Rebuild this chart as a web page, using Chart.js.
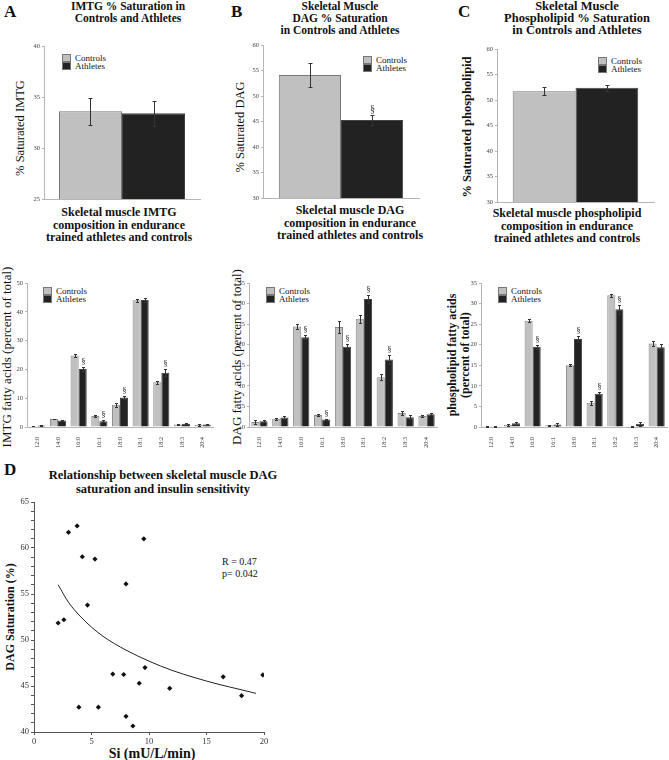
<!DOCTYPE html>
<html>
<head>
<meta charset="utf-8">
<script src="https://cdn.jsdelivr.net/npm/chart.js@4.4.1/dist/chart.umd.min.js"></script>
<style>
  body { margin: 0; background: #fff; }
  #page { position: relative; width: 669px; height: 760px; overflow: hidden; font-family: "Liberation Serif", serif; color: #111; }
  #page canvas { position: absolute; }
  .t { position: absolute; white-space: nowrap; }
  .b { font-weight: bold; }
  .c { text-align: center; transform: translateX(-50%); }
  .r { transform: translate(-50%, -50%) rotate(-90deg); text-align: center; }
  .letter { font-size: 17px; font-weight: bold; }
  .ttl { font-size: 11.5px; font-weight: bold; line-height: 12px; }
  .xl { font-size: 12px; font-weight: bold; line-height: 12.5px; }
  .lg { position: absolute; font-size: 9px; line-height: 8px; }
  .lg span { display: inline-block; width: 7px; height: 6px; margin-right: 4px; vertical-align: top; border: 1px solid #777; }
  .lg div { height: 8px; }
</style>
</head>
<body>
<div id="page">
  <!-- top row -->
  <div class="t letter" style="left:4px;top:2px;">A</div>
  <div class="t letter" style="left:231px;top:2px;">B</div>
  <div class="t letter" style="left:458px;top:2px;">C</div>

  <div class="t ttl c" style="left:128px;top:0px;">IMTG % Saturation in<br>Controls and Athletes</div>
  <div class="t ttl c" style="left:340px;top:0px;">Skeletal Muscle<br>DAG % Saturation<br>in Controls and Athletes</div>
  <div class="t ttl c" style="left:577px;top:0px;font-size:12.5px;">Skeletal Muscle<br>Phospholipid % Saturation<br>in Controls and Athletes</div>

  <div class="t r" style="left:20px;top:128px;font-size:12.5px;">% Saturated IMTG</div>
  <div class="t r" style="left:240px;top:127px;font-size:12.5px;">% Saturated DAG</div>
  <div class="t r b" style="left:467px;top:127px;font-size:12.5px;">% Saturated phospholipid</div>

  <div class="t xl c" style="left:119px;top:206px;">Skeletal muscle IMTG<br>composition in endurance<br>trained athletes and controls</div>
  <div class="t xl c" style="left:350px;top:204px;">Skeletal muscle DAG<br>composition in endurance<br>trained athletes and controls</div>
  <div class="t xl c" style="left:567px;top:207px;">Skeletal muscle phospholipid<br>composition in endurance<br>trained athletes and controls</div>

  <div class="lg" style="left:62px;top:54px;"><div><span style="background:#c0c0c0"></span>Controls</div><div><span style="background:#222"></span>Athletes</div></div>
  <div class="lg" style="left:363px;top:56px;"><div><span style="background:#c0c0c0"></span>Controls</div><div><span style="background:#222"></span>Athletes</div></div>
  <div class="lg" style="left:598px;top:57px;"><div><span style="background:#c0c0c0"></span>Controls</div><div><span style="background:#222"></span>Athletes</div></div>

  <!-- fatty acid row -->
  <div class="t r" style="left:7px;top:357px;font-size:13px;">IMTG fatty acids (percent of total)</div>
  <div class="t r" style="left:237px;top:357px;font-size:13px;">DAG fatty acids (percent of total)</div>
  <div class="t r b" style="left:459px;top:355px;font-size:12px;line-height:13px;">phospholipid fatty acids<br>(percent of total)</div>

  <div class="lg" style="left:43px;top:287px;"><div><span style="background:#c0c0c0"></span>Controls</div><div><span style="background:#222"></span>Athletes</div></div>
  <div class="lg" style="left:266px;top:287px;"><div><span style="background:#c0c0c0"></span>Controls</div><div><span style="background:#222"></span>Athletes</div></div>
  <div class="lg" style="left:498px;top:287px;"><div><span style="background:#c0c0c0"></span>Controls</div><div><span style="background:#222"></span>Athletes</div></div>

  <!-- scatter -->
  <div class="t letter" style="left:4px;top:460px;">D</div>
  <div class="t ttl c" style="left:163px;top:469px;font-size:12.5px;line-height:13.5px;">Relationship between skeletal muscle DAG<br>saturation and insulin sensitivity</div>
  <div class="t r b" style="left:10px;top:617px;font-size:12px;">DAG Saturation (%)</div>
  <div class="t b c" style="left:152px;top:746px;font-size:14px;">Si (mU/L/min)</div>
  <div class="t" style="left:222px;top:556px;font-size:10px;line-height:12px;">R = 0.47<br>p= 0.042</div>

  <canvas id="cA"></canvas>
  <canvas id="cB"></canvas>
  <canvas id="cC"></canvas>
  <canvas id="cE"></canvas>
  <canvas id="cF"></canvas>
  <canvas id="cG"></canvas>
  <canvas id="cD"></canvas>
</div>

<script>
// % saturation (controls, athletes)
const groups = ["Controls", "Athletes"];
const imtgSat = [33.6, 33.4];
const imtgSatErr = [1.3, 1.2];
const dagSat = [54.1, 45.3];
const dagSatErr = [2.3, 1.0];
const dagSatSig = [false, true];
const plSat = [51.7, 52.4];
const plSatErr = [0.8, 0.6];

// fatty acid composition
const fattyAcids = ["12:0", "14:0", "16:0", "16:1", "18:0", "18:1", "18:2", "18:3", "20:4"];
const imtgCtrl = [0.3, 2.8, 24.8, 3.8, 7.7, 44.0, 15.5, 0.9, 0.7];
const imtgCtrlErr = [0.1, 0.1, 0.5, 0.3, 0.6, 0.6, 0.4, 0.2, 0.2];
const imtgAth = [0.5, 2.3, 20.1, 2.0, 10.2, 44.1, 18.8, 1.1, 0.9];
const imtgAthErr = [0.1, 0.3, 0.8, 0.4, 0.6, 0.7, 1.2, 0.2, 0.2];
const imtgSig = [0, 0, 1, 1, 1, 0, 1, 0, 0];

const dagCtrl = [1.2, 2.0, 24.4, 2.9, 24.3, 26.3, 12.1, 3.4, 2.7];
const dagCtrlErr = [0.4, 0.3, 0.6, 0.3, 1.4, 1.0, 0.7, 0.6, 0.3];
const dagAth = [1.4, 2.3, 21.8, 1.8, 19.5, 31.1, 16.4, 2.4, 3.1];
const dagAthErr = [0.3, 0.3, 0.5, 0.2, 0.7, 1.0, 1.1, 0.5, 0.2];
const dagSig = [0, 0, 1, 1, 1, 1, 1, 0, 0];

const plCtrl = [0.1, 0.5, 25.8, 0.4, 15.0, 5.9, 32.0, 0.2, 20.3];
const plCtrlErr = [0.1, 0.2, 0.4, 0.1, 0.2, 0.5, 0.3, 0.1, 0.5];
const plAth = [0.1, 0.9, 19.5, 0.6, 21.4, 8.1, 28.6, 0.8, 19.4];
const plAthErr = [0.1, 0.4, 0.5, 0.4, 0.7, 0.3, 1.1, 0.5, 0.7];
const plSig = [0, 0, 1, 0, 1, 1, 1, 0, 0];

// DAG saturation vs insulin sensitivity
const siValues = [2.1, 2.6, 3.0, 3.75, 4.2, 5.3, 4.65, 3.9, 5.6, 6.85, 7.8, 8.0, 8.0, 8.6, 9.15, 9.65, 9.55, 11.8, 16.45, 18.05, 19.9];
const dagSatValues = [51.85, 52.2, 61.7, 62.4, 59.05, 58.8, 53.8, 42.7, 42.7, 46.3, 46.25, 56.1, 41.7, 40.65, 45.3, 47.0, 61.0, 44.75, 46.0, 43.95, 46.2];
// fitted curve
const curveSi = [2.1, 3, 4, 5, 6, 7, 8, 10, 12, 14, 16, 18, 19.3];
const curveDag = [56.0, 54.1, 52.6, 51.4, 50.4, 49.6, 48.9, 47.7, 46.7, 45.9, 45.2, 44.6, 44.2];

const LIGHT = "#c0c0c0";
const DARK = "#222222";
const serif = "'Liberation Serif', serif";

// error bars + § markers
const errorBars = {
  id: "errorBars",
  afterDatasetsDraw(chart) {
    const ctx = chart.ctx;
    const y = chart.scales.y;
    chart.data.datasets.forEach((ds, i) => {
      if (!ds.errors) return;
      chart.getDatasetMeta(i).data.forEach((bar, j) => {
        const v = ds.data[j], e = ds.errors[j];
        const top = Math.round(y.getPixelForValue(v + e)) + 0.5;
        const bot = Math.round(y.getPixelForValue(v - e)) + 0.5;
        const x = Math.round(bar.x) + 0.5;
        const cap = ds.cap || 1.5;
        ctx.save();
        ctx.strokeStyle = "#333";
        ctx.lineWidth = 1;
        ctx.beginPath();
        ctx.moveTo(x, top); ctx.lineTo(x, bot);
        ctx.moveTo(x - cap, top); ctx.lineTo(x + cap, top);
        ctx.moveTo(x - cap, bot); ctx.lineTo(x + cap, bot);
        ctx.stroke();
        if (ds.sig && ds.sig[j]) {
          ctx.fillStyle = "#333";
          ctx.font = (ds.sigSize || 9) + "px " + serif;
          ctx.textAlign = "center";
          ctx.textBaseline = "bottom";
          ctx.fillText("§", x, top - 1);
        }
        ctx.restore();
      });
    });
  }
};

function place(id, L, T, R, B, yw, xh) {
  const pt = 10, pr = 8;
  const c = document.getElementById(id);
  c.width = R - L + yw + pr;
  c.height = B - T + pt + xh;
  c.style.left = (L - yw) + "px";
  c.style.top = (T - pt) + "px";
  return { c, yw, xh, pt, pr };
}

function barChart(p, labels, datasets, yMin, yMax, step, catPct, xTicks) {
  return new Chart(p.c, {
    type: "bar",
    data: { labels: labels, datasets: datasets },
    options: {
      responsive: false,
      animation: false,
      devicePixelRatio: 1,
      layout: { padding: { top: p.pt, right: p.pr, left: 0, bottom: 0 } },
      datasets: { bar: { categoryPercentage: catPct, barPercentage: 1, borderWidth: 1, borderColor: "#666" } },
      plugins: { legend: { display: false }, tooltip: { enabled: false } },
      scales: {
        x: {
          grid: { display: false },
          border: { display: true, color: "#b5b5b5" },
          ticks: xTicks ? {
            display: true, minRotation: 90, maxRotation: 90, autoSkip: false, padding: 2,
            color: "#333", font: { family: serif, size: 6 }
          } : { display: false },
          afterFit: s => { s.height = p.xh; }
        },
        y: {
          min: yMin, max: yMax,
          grid: { display: true, drawOnChartArea: false, tickLength: 2, color: "#b5b5b5" },
          border: { display: true, color: "#b5b5b5" },
          ticks: { stepSize: step, padding: 2, color: "#444", font: { family: serif, size: 6.5 } },
          afterFit: s => { s.width = p.yw; }
        }
      }
    },
    plugins: [errorBars]
  });
}

function satSets(vals, errs, sig) {
  return [
    { label: groups[0], data: [vals[0]], errors: [errs[0]], backgroundColor: LIGHT, borderColor: "#777", cap: 2 },
    { label: groups[1], data: [vals[1]], errors: [errs[1]], sig: sig ? [sig[1]] : null, sigSize: 10, backgroundColor: DARK, borderColor: "#444", cap: 2 }
  ];
}

function faSets(c, ce, a, ae, sig) {
  return [
    { label: groups[0], data: c, errors: ce, backgroundColor: LIGHT, borderColor: "#888" },
    { label: groups[1], data: a, errors: ae, sig: sig, backgroundColor: DARK, borderColor: "#444" }
  ];
}

barChart(place("cA", 44, 46, 200, 202, 22, 3), [""], satSets(imtgSat, imtgSatErr), 25, 40, 5, 0.808, false);
barChart(place("cB", 263, 45, 419, 201, 22, 3), [""], satSets(dagSat, dagSatErr, dagSatSig), 30, 60, 5, 0.797, false);
barChart(place("cC", 497, 49, 654, 205, 22, 3), [""], satSets(plSat, plSatErr), 30, 60, 5, 0.8, false);

barChart(place("cE", 27, 283, 213, 427, 18, 24), fattyAcids, faSets(imtgCtrl, imtgCtrlErr, imtgAth, imtgAthErr, imtgSig), 0, 50, 10, 0.78, true);
barChart(place("cF", 249, 283, 437, 427, 18, 24), fattyAcids, faSets(dagCtrl, dagCtrlErr, dagAth, dagAthErr, dagSig), 0, 35, 5, 0.78, true);
barChart(place("cG", 481, 283, 667, 427, 18, 24), fattyAcids, faSets(plCtrl, plCtrlErr, plAth, plAthErr, plSig), 0, 35, 5, 0.78, true);

// scatter D
const pD = place("cD", 34, 502, 264, 732, 34, 14);
new Chart(pD.c, {
  type: "scatter",
  data: {
    datasets: [
      {
        label: "subjects",
        data: siValues.map((x, i) => ({ x: x, y: dagSatValues[i] })),
        pointStyle: "rectRot", pointRadius: 2.6,
        backgroundColor: "#111", borderColor: "#111", borderWidth: 0
      },
      {
        label: "fit",
        type: "line",
        data: curveSi.map((x, i) => ({ x: x, y: curveDag[i] })),
        showLine: true, pointRadius: 0, borderColor: "#222", borderWidth: 1,
        cubicInterpolationMode: "monotone", fill: false
      }
    ]
  },
  options: {
    responsive: false,
    animation: false,
    devicePixelRatio: 1,
    layout: { padding: { top: pD.pt, right: pD.pr, left: 0, bottom: 0 } },
    plugins: { legend: { display: false }, tooltip: { enabled: false } },
    scales: {
      x: {
        type: "linear", min: 0, max: 20,
        grid: { display: true, drawOnChartArea: false, tickLength: 3, color: "#555" },
        border: { display: true, color: "#555" },
        ticks: { stepSize: 5, padding: 2, color: "#333", font: { family: serif, size: 8.5 } },
        afterFit: s => { s.height = pD.xh; }
      },
      y: {
        min: 40, max: 65,
        grid: { display: true, drawOnChartArea: false, tickLength: 3, color: "#555" },
        border: { display: true, color: "#555" },
        ticks: {
          stepSize: 1, autoSkip: false, padding: 2, color: "#333", font: { family: serif, size: 8.5 },
          callback: v => (v % 5 === 0 ? v : "")
        },
        afterFit: s => { s.width = pD.yw; }
      }
    }
  }
});
</script>
</body>
</html>
